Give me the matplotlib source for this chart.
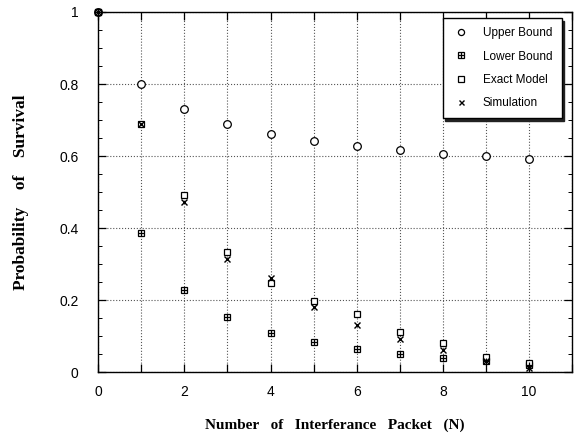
"""
Probability of survival vs number of interference packets
"""
import matplotlib
matplotlib.use('Agg')
import matplotlib.pyplot as plt
from matplotlib.legend_handler import HandlerTuple
from matplotlib.ticker import MultipleLocator, FixedLocator, FuncFormatter

n_packets = [0, 1, 2, 3, 4, 5, 6, 7, 8, 9, 10]
upper_bound = [1.0, 0.80, 0.731, 0.690, 0.662, 0.643, 0.629, 0.618, 0.607, 0.599, 0.593]
lower_bound = [1.0, 0.385, 0.228, 0.152, 0.108, 0.083, 0.063, 0.050, 0.039, 0.030, 0.020]
exact_model = [1.0, 0.690, 0.491, 0.334, 0.246, 0.198, 0.160, 0.110, 0.080, 0.042, 0.025]
simulation = [1.0, 0.690, 0.472, 0.314, 0.262, 0.180, 0.130, 0.093, 0.060, 0.030, 0.010]

plt.rcParams['font.family'] = ['Liberation Sans', 'DejaVu Sans']

fig = plt.figure(figsize=(5.74, 4.44), dpi=100)
ax = fig.add_axes([0.171, 0.162, 0.826, 0.811])

mk = dict(linestyle='none', markerfacecolor='white', markeredgecolor='black',
          markeredgewidth=0.9, clip_on=False, zorder=3)
h_up, = ax.plot(n_packets, upper_bound, marker='o', markersize=5.5, **mk)
h_lo_s, = ax.plot(n_packets, lower_bound, marker='s', markersize=5, **mk)
h_lo_p, = ax.plot(n_packets, lower_bound, linestyle='none', marker='+', markersize=5,
                  color='black', markeredgewidth=0.9, clip_on=False, zorder=4)
h_ex, = ax.plot(n_packets, exact_model, marker='s', markersize=5, **mk)
h_sim, = ax.plot(n_packets, simulation, linestyle='none', marker='x', markersize=4.5,
                 color='black', markeredgewidth=1.0, clip_on=False, zorder=5)

ax.set_xlim(0, 11)
ax.set_ylim(0, 1)
ax.xaxis.set_major_locator(FixedLocator(range(0, 12)))
ax.xaxis.set_major_formatter(FuncFormatter(lambda v, p: f'{int(v)}' if int(v) % 2 == 0 and v <= 10 else ''))
ax.yaxis.set_major_locator(MultipleLocator(0.2))
ax.yaxis.set_minor_locator(MultipleLocator(0.05))
ax.yaxis.set_major_formatter(FuncFormatter(lambda v, p: f'{v:g}'))
ax.tick_params(which='both', direction='in', top=True, right=True, labelsize=10)
ax.tick_params(which='major', length=6, width=0.9)
ax.tick_params(which='minor', length=3, width=0.7)
ax.tick_params(axis='y', pad=14)
ax.tick_params(axis='x', pad=9)

ax.grid(True, which='major', linestyle=':', color='#555555', linewidth=0.8)
for s in ax.spines.values():
    s.set_linewidth(1.0)

ax.set_xlabel('Number   of   Interferance   Packet   (N)', fontsize=11, fontweight='bold',
              family=['Liberation Serif', 'DejaVu Serif'], labelpad=14)
ax.set_ylabel('Probability    of    Survival', fontsize=12.5, fontweight='bold',
              family=['Liberation Serif', 'DejaVu Serif'], labelpad=22)

leg = ax.legend([h_up, (h_lo_s, h_lo_p), h_ex, h_sim],
                ['Upper Bound', 'Lower Bound', 'Exact Model', 'Simulation'],
                handler_map={tuple: HandlerTuple(ndivide=1)},
                loc='upper right', bbox_to_anchor=(0.99, 1.0), fontsize=8.5,
                frameon=True, fancybox=False, shadow={'color': '#222222', 'alpha': 1.0},
                handlelength=1.5, handletextpad=1.1, borderpad=0.8,
                labelspacing=0.95, markerscale=0.8, borderaxespad=0.5)
leg.get_frame().set_edgecolor('black')
leg.get_frame().set_linewidth(1.0)

plt.savefig('out.png', dpi=100, facecolor='white')
